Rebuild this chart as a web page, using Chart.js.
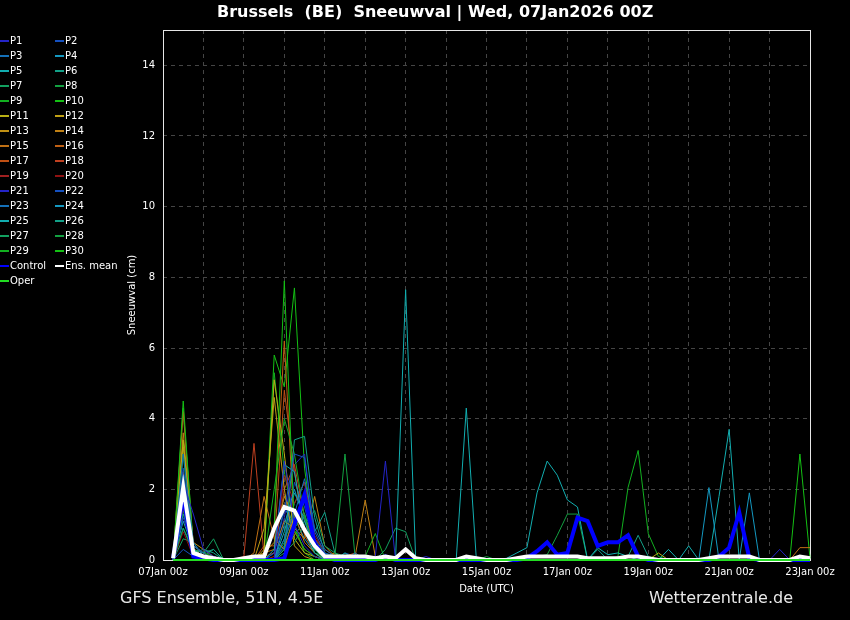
<!DOCTYPE html>
<html lang="nl">
<head>
    <meta charset="UTF-8">
    <title>Brussels Sneeuwval</title>
    <script src="https://cdn.jsdelivr.net/npm/chart.js@4"></script>
    <style>
        body { margin: 0; background: #000; }
        #wrap { position: relative; width: 850px; height: 620px; background: #000; color: #fff; font-family: "DejaVu Sans", sans-serif; }
        #title { position: absolute; left: 217px; top: 3px; font-size: 16px; font-weight: bold; line-height: 18px; white-space: pre; }
        #legend { position: absolute; left: 0; top: 33px; width: 125px; font-size: 10px; }
        #legend .item { display: inline-block; width: 55px; height: 15px; line-height: 15px; white-space: nowrap; }
        #legend .sw { display: inline-block; width: 9px; height: 2px; vertical-align: middle; margin-right: 1px; }
        #src { position: absolute; left: 120px; top: 588px; font-size: 16px; line-height: 20px; color: #e8e8e8; }
        #site { position: absolute; right: 57px; top: 588px; font-size: 16px; line-height: 20px; color: #e8e8e8; }
        canvas { position: absolute; left: 0; top: 0; }
    </style>
</head>
<body>
<div id="wrap">
    <canvas id="chart" width="850" height="620"></canvas>
    <div id="title">Brussels  (BE)  Sneeuwval | Wed, 07Jan2026 00Z</div>
    <div id="legend"></div>
    <div id="src">GFS Ensemble, 51N, 4.5E</div>
    <div id="site">Wetterzentrale.de</div>
</div>

<script>
    // tijdas: 6-uurlijkse stappen vanaf 07Jan 06z
    const leadHours = Array.from({ length: 64 }, (_, k) => 6 * (k + 1));
    const dayLabels = ['07Jan', '08Jan', '09Jan', '10Jan', '11Jan', '12Jan', '13Jan', '14Jan', '15Jan',
                       '16Jan', '17Jan', '18Jan', '19Jan', '20Jan', '21Jan', '22Jan', '23Jan'];

    // sneeuwval (cm) per leden
    const P1 = [0,2.2,1.3,0.3,0.1,0,0,0,0,0,0,2.8,1.0,0.4,0.1,0, 0,0,0,0,0.1,2.8,0,0,0,0,0,0,0,0,0,0, 0,0,0,0,0,0,0,0,0,0,0,0,0,0,0,0, 0,0,0,0,0,0,0,0,0,0,0,0,0,0,0,0];
    const P2 = [0,2.6,0.4,0.2,0,0,0,0,0,0,0.2,1.4,3.0,2.9,0.8,0.2, 0.1,0,0,0,0,0,0,0,0,0,0,0,0,0,0,0, 0,0,0,0,0,0,0,0,0,0,0,0,0,0,0,0, 0,0,0,0,0,0,0,0,0,0,0,0,0,0,0,0];
    const P3 = [0,3.0,0.5,0.1,0.1,0,0,0,0,0,0,0.6,1.3,2.3,0.9,0.3, 0.1,0,0.2,0,0,0,0,0,0,0,0,0,0,0,0,0, 0,0,0,0,0,0,0,0,0,0,0,0,0,0,0,0, 0,0,0,0,0,0,0,0,0,0,0,0,0,0,0,0];
    const P4 = [0,2.4,0.2,0,0,0,0,0,0,0,0,1.0,2.0,1.1,0.3,0.1, 0,0,0,0,0,0,0,0,0,0,0,0,0,0,0,0, 0,0,0,0,0,0,0,0,0,0,0,0,0,0,0,0, 0,0,0,0,0,0,0,0,0,1.9,0,0,0,0,0,0];
    const P5 = [0,2.2,0.3,0.1,0,0,0,0,0,0,0.3,2.7,2.5,0.8,0.2,0, 0,0,0,0,0,0,0,7.65,0,0,0,0,0,0,0,0, 0,0.05,0.2,0.35,1.9,2.8,2.4,1.7,1.5,0,0,0,0,0,0,0, 0,0,0,0,0,0,0,0,0,0,0,0,0,0,0,0];
    const P6 = [0,1.3,0.4,0.2,0.3,0,0,0,0,0,0,0.3,3.4,3.5,1.2,0.2, 0,0.2,0,0,0,0,0,0,0,0,0,0,0,0,0,0, 0,0,0,0,0,0,0,0,0,0,0.3,0,0,0.1,0.7,0.1, 0,0,0,0,0,0,0,0,0,0,0,0,0,0,0,0];
    const P7 = [0,0.9,0.3,0.2,0.6,0,0,0,0,0,0,0.2,0.5,1.0,1.4,0.4, 0.2,0.1,0,0,0,0.3,0.9,0.8,0,0,0,0,0,0,0,0, 0,0,0,0,0,0,0,0,0,0,0,0,0,0,0,0, 0,0,0,0,0,0,0,0,0,0,0,0,0,0,0,0];
    const P8 = [0,1.6,0.2,0.1,0,0,0,0,0,0,0,0.3,0.9,1.3,0.2,0.1, 0.1,3.0,0.1,0,0,0,0,0,0,0,0,0,0,0,0,0, 0,0,0,0,0,0,0,0,0,0,0,0,0,0,0,0, 0,0,0,0,0,0,0,0,0,0,0,0,0,0,0,0];
    const P9 = [0,3.0,0.2,0.1,0,0,0,0,0,0,2.0,4.0,3.0,1.2,0.3,0.1, 0,0,0,0.1,0.75,0,0,0,0,0,0,0,0,0,0,0, 0,0,0,0,0,0,0,0,0,0,0,0,0,0,0,0, 0,0,0,0,0,0,0,0,0,0,0,0,0,0,0,0];
    const P10 = [0,4.5,0.3,0,0,0,0,0,0,0,0.9,7.9,0.85,0.3,0.1,0, 0,0,0,0,0,0,0,0,0,0,0,0,0,0,0,0, 0,0,0,0,0,0,0,0,0,0,0,0,0,0,0,0, 0,0,0,0,0,0,0,0,0,0,0,0,0,0,0,0];
    const P11 = [0,3.4,0.3,0.2,0,0,0,0,0,0.3,5.1,3.0,0.6,0.2,0.1,0, 0,0,0,0,0,0,0,0,0,0,0,0,0,0,0,0, 0,0,0,0,0,0,0,0,0,0,0,0,0,0,0,0, 0.2,0,0,0,0,0,0,0,0,0,0,0,0,0,0,0];
    const P12 = [0,2.2,0.2,0.1,0,0,0,0,0,0.9,4.6,2.0,0.4,0.1,0,0, 0,0,0,0,0,0,0,0,0,0,0,0,0,0,0,0, 0,0,0,0,0,0,0,0,0,0,0,0,0,0,0,0, 0,0,0,0,0,0,0,0,0,0,0,0,0,0,0,0];
    const P13 = [0,3.2,0.5,0.3,0.1,0,0,0,0,0.2,0.5,1.8,1.2,0.9,0.3,0.1, 0.2,0,0,0,0,0,0,0,0,0,0,0,0,0,0,0, 0,0,0,0,0,0,0,0,0,0,0,0,0,0,0,0, 0,0,0,0,0,0,0,0,0,0,0,0,0,0,0,0];
    const P14 = [0,3.6,0.4,0.2,0,0,0,0,0.1,0.2,0.3,1.1,0.9,0.6,1.8,0.4, 0.1,0,0.1,1.7,0.1,0,0,0,0,0,0,0,0,0,0,0, 0,0,0,0,0,0,0,0,0,0,0,0,0,0,0,0, 0,0,0,0,0,0,0,0,0,0,0,0,0,0,0,0];
    const P15 = [0,2.5,0.3,0.1,0,0,0,0,0.2,1.8,0.6,0.3,1.3,0.5,0.2,0, 0,0,0,0,0,0,0,0,0,0,0,0,0,0,0,0, 0,0,0,0,0,0,0,0,0,0,0,0,0,0,0,0, 0,0,0,0,0,0,0,0,0,0,0,0,0,0,0.35,0.35];
    const P16 = [0,4.2,0.3,0.1,0,0,0,0,0,0,1.0,6.2,0.8,0.3,0.1,0, 0,0,0,0,0,0,0,0,0,0,0,0,0,0,0,0, 0,0,0,0,0,0,0,0,0,0,0,0,0,0,0,0, 0,0,0,0,0,0,0,0,0,0,0,0,0,0,0,0];
    const P17 = [0,1.9,0.2,0,0,0,0,0,0,0.4,0.4,4.8,2.5,0.7,0.2,0, 0,0.1,0.2,0,0,0,0,0,0,0,0,0,0,0,0,0, 0,0,0,0,0,0,0,0,0,0,0,0,0,0,0,0, 0,0,0,0,0,0,0,0,0,0,0,0,0,0,0,0];
    const P18 = [0,2.0,0.3,0.1,0,0,0,0.1,3.3,0.1,0.2,2.0,2.7,1.2,0.5,0.1, 0,0,0,0,0,0,0,0,0,0,0,0,0,0,0,0, 0,0,0,0,0,0,0,0,0,0,0,0,0,0,0,0, 0,0,0,0,0,0,0,0,0,0,0,0,0,0,0,0];
    const P19 = [0,1.5,0.1,0,0,0,0,0,0,0,0.1,2.4,1.6,2.2,0.6,0.3, 0.1,0,0,0,0,0,0,0,0,0,0,0,0,0,0,0, 0,0,0,0,0,0,0,0,0,0,0,0,0,0,0,0, 0,0,0,0,0,0,0,0,0,0,0,0,0,0,0,0];
    const P20 = [0,0.8,0.1,0,0,0,0,0,0,0,0,0.3,1.0,1.8,0.7,0.2, 0,0,0,0,0,0,0,0,0,0,0,0,0,0,0,0, 0,0,0,0,0,0,0,0,0,0,0,0,0,0,0,0, 0,0,0,0,0,0,0,0,0,0,0,0,0,0,0,0];
    const P21 = [0,1.2,0.3,0.1,0,0,0,0,0,0,0,1.2,2.7,3.0,0.6,0.1, 0,0,0,0,0,0,0,0,0,0.1,0,0,0,0,0,0, 0,0,0,0,0,0,0,0,0,0,0,0,0,0,0,0, 0,0,0,0,0,0,0,0,0,0,0,0,0.3,0,0,0];
    const P22 = [0,0.3,0.1,0,0,0,0,0,0,0,0,0.4,2.2,1.5,0.4,0.1, 0,0.2,0.1,0,0,0,0,0,0,0,0,0,0,0,0,0, 0,0,0,0,0,0,0,0,0,0,0,0,0,0,0,0, 0,0,0,0,0,0,0,0,0,0,0,0,0,0,0,0];
    const P23 = [0,2.0,0.2,0.1,0,0,0,0,0,0,0.2,1.5,0.9,1.7,0.5,0, 0,0,0,0,0,0,0,0,0,0,0,0,0,0,0,0, 0,0,0,0,0,0,0,0,0,0,0,0,0,0,0,0, 0,0,0,0,0,0,0,0,0,0,0,0,0,0,0,0];
    const P24 = [0,1.7,0.1,0,0,0,0,0,0,0,0,0.4,1.2,0.6,0.2,0, 0,0,0,0,0,0,0,0,0,0,0,0,0,0,0,0, 0,0,0,0,0,0,0,0,0,0,0,0,0,0,0,0, 0,0,0,0,0,2.05,0,0,0,0,0,0,0,0,0,0];
    const P25 = [0,1.1,0.3,0.1,0,0,0,0,0,0,0,0.8,1.9,1.3,0.4,0, 0,0,0,0,0,0,0,0,0,0,0,0,0,4.3,0,0, 0,0,0,0,0,0,0,0,0,0,0.35,0.15,0.2,0.1,0,0, 0,0.3,0,0.4,0,0,1.8,3.7,0,0,0,0,0,0,0,0];
    const P26 = [0,0.9,0.2,0.3,0.2,0,0,0,0,0,0,0.6,1.6,2.2,0.8,1.35, 0.2,0,0,0,0,0,0,0,0,0,0,0,0,0,0,0, 0,0,0,0,0,0,0,0,0,0,0,0,0,0,0,0, 0,0,0,0,0,0,0,0,0,0,0,0,0,0,0,0];
    const P27 = [0,0.6,0.5,0.1,0.3,0,0,0,0,0,0,0.3,0.7,1.1,0.6,0.2, 0.1,0,0,0,0,0,0,0,0,0,0,0,0,0,0,0, 0,0,0,0,0,0,0,0,0,0,0,0,0,0,0,0, 0,0,0,0,0,0,0,0,0,0,0,0,0,0,0,0];
    const P28 = [0,1.4,0.2,0.1,0,0,0,0,0,0,0,0.5,1.4,0.8,0.3,0, 0,0,0,0,0,0,0,0,0,0,0,0,0,0,0,0.1, 0,0,0,0.05,0.1,0.15,0.7,1.3,1.3,0,0,0,0,0,0,0, 0,0,0,0,0,0,0,0,0,0,0,0,0,0,0,0];
    const P29 = [0,4.3,0.4,0.2,0.1,0,0,0,0,0.1,5.3,2.5,1.0,0.2,0,0, 0,0,0,0,0,0,0,0,0,0,0,0,0,0,0,0, 0,0,0,0,0,0,0,0,0,0,0,0,0.1,2.05,3.1,0.75, 0.1,0,0,0,0,0,0,0,0,0,0,0,0,0,0,0];
    const P30 = [0,3.3,0.3,0.1,0,0,0,0,0,0.2,5.8,4.9,7.7,2.6,0.5,0.1, 0,0,0,0,0,0,0,0,0,0,0,0,0,0,0,0, 0,0,0,0,0,0,0,0,0,0,0,0,0,0,0,0, 0,0,0,0,0,0,0,0,0,0,0,0,0,0,3.0,0.05];
    const control = [0.05,1.8,0.1,0.05,0,0,0,0,0,0,0,0.05,1.0,1.85,0.45,0.1, 0,0,0,0,0,0.1,0,0,0,0,0,0,0,0,0,0, 0,0,0,0.05,0.25,0.5,0.15,0.2,1.2,1.1,0.4,0.5,0.5,0.7,0.1,0, 0,0,0,0,0,0,0.1,0.35,1.35,0.05,0,0,0,0,0,0];
    const ensMean = [0.05,2.05,0.2,0.1,0.05,0,0,0.05,0.1,0.1,0.9,1.5,1.4,0.85,0.4,0.1, 0.1,0.1,0.1,0.1,0.05,0.1,0.05,0.3,0.05,0,0,0,0,0.1,0.05,0, 0,0,0.05,0.1,0.1,0.1,0.1,0.1,0.1,0.05,0.05,0.05,0.05,0.1,0.1,0.05, 0,0,0,0,0,0.05,0.1,0.1,0.1,0.1,0,0,0,0,0.1,0.05];
    const oper = [0,0,0,0,0,0,0,0,0,0,0,0,0,0,0,0, 0,0,0,0,0,0,0,0,0,0,0,0,0,0,0,0, 0,0,0,0,0,0,0,0,0,0,0,0,0,0,0,0, 0,0,0,0,0,0,0,0,0,0,0,0,0,0,0,0];

    const members = [P1, P2, P3, P4, P5, P6, P7, P8, P9, P10, P11, P12, P13, P14, P15,
                     P16, P17, P18, P19, P20, P21, P22, P23, P24, P25, P26, P27, P28, P29, P30];

    const memberColors = ['#2424c8', '#1450c0', '#1470b8', '#1498c0', '#12aeb0', '#12a088', '#12a060', '#12a040', '#12b020', '#14c014',
                          '#b8b014', '#c0a014', '#c09014', '#c08014', '#c07014', '#c06014', '#c05014', '#c04020', '#a02020', '#901212',
                          '#2424c8', '#1450c0', '#1470b8', '#1498c0', '#12aeb0', '#12a088', '#12a060', '#12a040', '#12b020', '#14c014'];

    const toPoints = vals => vals.map((v, k) => ({ x: leadHours[k], y: v }));

    const datasets = members.map((vals, n) => ({
        label: 'P' + (n + 1),
        data: toPoints(vals),
        borderColor: memberColors[n],
        borderWidth: 1,
        order: 4
    }));
    datasets.push({ label: 'Control', data: toPoints(control), borderColor: '#0000ff', borderWidth: 4, order: 3 });
    datasets.push({ label: 'Ens. mean', data: toPoints(ensMean), borderColor: '#ffffff', borderWidth: 4, order: 2 });
    datasets.push({ label: 'Oper', data: toPoints(oper), borderColor: '#22dd22', borderWidth: 2, order: 1 });

    // legenda links, twee kolommen
    const legend = document.getElementById('legend');
    datasets.forEach(ds => {
        const item = document.createElement('span');
        item.className = 'item';
        item.innerHTML = '<span class="sw" style="background:' + ds.borderColor + '"></span>' + ds.label;
        legend.appendChild(item);
    });

    // witte rand om het plotvlak
    const frame = {
        id: 'frame',
        beforeDatasetsDraw(chart) {
            const { ctx, chartArea: a } = chart;
            ctx.save();
            ctx.strokeStyle = '#e6e6e6';
            ctx.lineWidth = 1;
            ctx.strokeRect(a.left + 0.5, a.top + 0.5, a.right - a.left, a.bottom - a.top);
            ctx.restore();
        }
    };

    Chart.defaults.font.family = '"DejaVu Sans", sans-serif';
    Chart.defaults.font.size = 10;
    Chart.defaults.color = '#ffffff';

    new Chart(document.getElementById('chart').getContext('2d'), {
        type: 'line',
        data: { datasets: datasets },
        plugins: [frame],
        options: {
            responsive: false,
            animation: false,
            devicePixelRatio: 1,
            layout: { padding: { left: 122, top: 30, right: 40, bottom: 0 } },
            elements: { point: { radius: 0 }, line: { tension: 0 } },
            datasets: { line: { clip: 4 } },
            plugins: { legend: { display: false }, tooltip: { enabled: false } },
            scales: {
                x: {
                    type: 'linear',
                    min: 0,
                    max: 384,
                    afterFit: s => { s.height = 60; },
                    grid: { color: '#454545', drawTicks: false },
                    border: { display: false, dash: [4, 4] },
                    ticks: {
                        stepSize: 24,
                        autoSkip: false,
                        maxRotation: 0,
                        padding: 6,
                        callback: v => (v % 48 === 0 ? dayLabels[v / 24] + ' 00z' : '')
                    },
                    title: { display: true, text: 'Date (UTC)', padding: { top: 0, bottom: 25 } }
                },
                y: {
                    min: 0,
                    max: 15,
                    afterFit: s => { s.width = 41; },
                    grid: { color: '#454545', drawTicks: false },
                    border: { display: false, dash: [4, 4] },
                    ticks: { stepSize: 2, includeBounds: false, padding: 8 },
                    title: { display: true, text: 'Sneeuwval (cm)', padding: { top: 4, bottom: 0 } }
                }
            }
        }
    });
</script>
</body>
</html>
